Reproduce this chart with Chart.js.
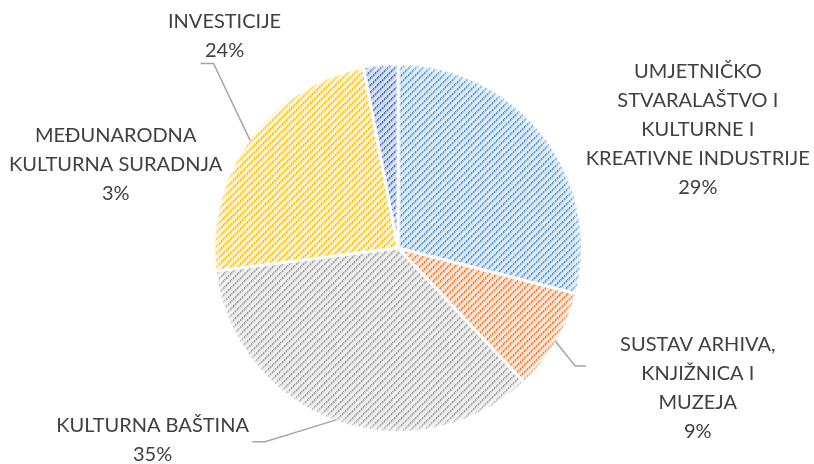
<!DOCTYPE html>
<html>
<head>
<meta charset="utf-8">
<script src="https://cdn.jsdelivr.net/npm/chart.js@4.4.1/dist/chart.umd.min.js"></script>
<style>
  html, body { margin: 0; padding: 0; background: #fff; }
</style>
</head>
<body>
<canvas id="pieChart" width="814" height="464"></canvas>
<script>
// data
const labels = [
    ['UMJETNIČKO', 'STVARALAŠTVO I', 'KULTURNE I', 'KREATIVNE INDUSTRIJE'],
    ['SUSTAV ARHIVA,', 'KNJIŽNICA I', 'MUZEJA'],
    ['KULTURNA BAŠTINA'],
    ['INVESTICIJE'],
    ['MEĐUNARODNA', 'KULTURNA SURADNJA']
];
const values = [29, 9, 35, 24, 3];

// hatch colours: [light base, mid, dark line]
const hatchColors = [
    ['#deebf7', '#a9cbea', '#5b9bd5'],
    ['#fde4d4', '#f6bd96', '#ed7d31'],
    ['#eeeeee', '#d0d0d0', '#a5a5a5'],
    ['#fff2cc', '#ffdc78', '#ffc000'],
    ['#d6e0f3', '#9fb6e0', '#4472c4']
];

// label placement, relative to pie centre in units of radius
// elbow: leader line bend point, end: where the horizontal bit stops
const labelSpots = [
    { dx: 1.625, dy: -0.64 },
    { dx: 1.625, dy: 0.76, elbow: [0.96, 0.64], end: [1.02, 0.64] },
    { dx: -1.33, dy: 1.04, elbow: [-0.72, 1.05], end: [-0.79, 1.05] },
    { dx: -0.94, dy: -1.15, elbow: [-1.0, -1.0], end: [-1.07, -1.0] },
    { dx: -1.53, dy: -0.45 }
];

function makeHatch(c) {
    const n = 7;
    const tile = document.createElement('canvas');
    tile.width = n; tile.height = n;
    const t = tile.getContext('2d');
    t.fillStyle = c[0];
    t.fillRect(0, 0, n, n);
    for (let y = 0; y < n; y++) {
        const x = n - 1 - y;
        t.fillStyle = (y % 2 === 0) ? c[2] : c[1];
        t.fillRect(x, y, 1, 1);
        t.fillStyle = (y % 2 === 0) ? c[1] : c[2];
        t.fillRect((x + 1) % n, y, 1, 1);
        t.fillStyle = c[1];
        t.fillRect((x + 2) % n, y, 1, 1);
    }
    return t.createPattern(tile, 'repeat');
}

// faded outer rim, like the soft edges in the original
const softEdge = {
    id: 'softEdge',
    afterDatasetsDraw(chart) {
        const arc = chart.getDatasetMeta(0).data[0];
        if (!arc) return;
        const ctx = chart.ctx;
        const r = arc.outerRadius;
        const g = ctx.createRadialGradient(arc.x, arc.y, r - 8, arc.x, arc.y, r + 1);
        g.addColorStop(0, 'rgba(255,255,255,0)');
        g.addColorStop(1, 'rgba(255,255,255,0.55)');
        ctx.save();
        ctx.fillStyle = g;
        ctx.beginPath();
        ctx.arc(arc.x, arc.y, r + 1, 0, Math.PI * 2);
        ctx.arc(arc.x, arc.y, r - 8, 0, Math.PI * 2, true);
        ctx.fill();
        ctx.restore();
    }
};

const labelPlugin = {
    id: 'pieLabels',
    afterDraw(chart) {
        const ctx = chart.ctx;
        const meta = chart.getDatasetMeta(0);
        const total = values.reduce((a, b) => a + b, 0);
        ctx.save();
        meta.data.forEach((arc, i) => {
            const cx = arc.x, cy = arc.y, r = arc.outerRadius;
            const spot = labelSpots[i];
            // leader line
            if (spot.elbow) {
                const mid = (arc.startAngle + arc.endAngle) / 2;
                ctx.strokeStyle = '#a6a6a6';
                ctx.lineWidth = 1.5;
                ctx.beginPath();
                ctx.moveTo(cx + Math.cos(mid) * r * 0.99, cy + Math.sin(mid) * r * 0.99);
                ctx.lineTo(cx + spot.elbow[0] * r, cy + spot.elbow[1] * r);
                ctx.lineTo(cx + spot.end[0] * r, cy + spot.end[1] * r);
                ctx.stroke();
            }
            const lines = labels[i].concat([Math.round(values[i] / total * 100) + '%']);
            const lh = 29;
            const x = cx + spot.dx * r;
            const y0 = cy + spot.dy * r - (lines.length - 1) * lh / 2;
            ctx.fillStyle = '#404040';
            ctx.font = '20px Lato, sans-serif';
            ctx.textAlign = 'center';
            ctx.textBaseline = 'middle';
            lines.forEach((ln, k) => ctx.fillText(ln, x, y0 + k * lh));
        });
        ctx.restore();
    }
};

const ctx = document.getElementById('pieChart').getContext('2d');
const pieChart = new Chart(ctx, {
    type: 'pie',
    data: {
        labels: labels.map(l => l.join(' ')),
        datasets: [{
            data: values,
            backgroundColor: hatchColors.map(makeHatch),
            borderColor: '#ffffff',
            borderWidth: 3
        }]
    },
    options: {
        responsive: false,
        animation: false,
        layout: { padding: { top: 62, bottom: 30, left: 212, right: 230 } },
        plugins: {
            legend: { display: false },
            tooltip: { enabled: false }
        }
    },
    plugins: [softEdge, labelPlugin]
});
</script>
</body>
</html>
